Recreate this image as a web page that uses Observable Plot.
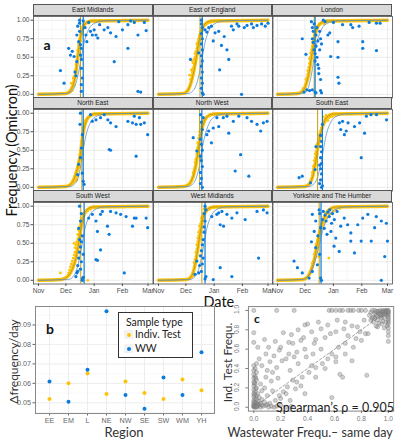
<!DOCTYPE html>
<html><head><meta charset="utf-8">
<script src="https://cdn.jsdelivr.net/npm/d3@7"></script>
<script src="https://cdn.jsdelivr.net/npm/@observablehq/plot@0.6"></script>
<style>
body{margin:0;background:#fff;}
#root{position:relative;width:402px;height:440px;overflow:hidden;background:#fff;font-family:Lato,"Open Sans",sans-serif;}
.abs{position:absolute;white-space:nowrap;color:#111;line-height:1;}
.strip{position:absolute;box-sizing:border-box;background:#d9d9d9;border:0.8px solid #555;font:6.6px "Liberation Sans",Arial,sans-serif;color:#1a1a1a;text-align:center;line-height:10px;}
</style>
</head><body><div id="root"></div>
<script>
// ---------- panel a : facets ----------
const regions = ["East Midlands","East of England","London","North East","North West","South East","South West","West Midlands","Yorkshire and The Humber"];
const monthTicks = ["2021-11-01","2021-12-01","2022-01-01","2022-02-01","2022-03-01"];
const monthMinor = ["2021-11-16","2021-12-16","2022-01-16","2022-02-15"];
const freqTicks = [0,0.25,0.5,0.75,1];
const freqMinor = [0.125,0.375,0.625,0.875];
// fitted curves: day (since 1 Nov) at which each level is reached
const fitLevels = [0,0.01,0.05,0.15,0.3,0.5,0.7,0.85,0.95,0.99,1];
const itFitEM = [0,30,35,38.5,41,43,45,47.5,51,57,120];
const itFitEE = [0,27,32,35.5,38.5,41.5,44,47,51,58,120];
const itFitL  = [0,22,28,31.5,34.5,37,39.5,42,46,53,120];
const itFitNE = [0,30,36,40,43.5,46.5,48.5,51,55,61,120];
const itFitNW = [0,28,34,38,41,43.5,46,49,53,60,120];
const itFitSE = [0,30,35,38.5,41,43.5,46.5,50,54,61,120];
const itFitSW = [0,25,32,37,41,44,46.5,49,53,60,120];
const itFitWM = [0,31,36,39,41.5,44,46.5,49,53,60,120];
const itFitYH = [0,28,33,37,40.5,43.5,47,51,56,64,120];
const wwFitEM = [0,30,37,41,44,47,50,54,60,72,120];
const wwFitEE = [0,32,38,42,45,48,51,55,61,72,120];
const wwFitL  = [0,26,32,35,37.5,40,43,47,53,65,120];
const wwFitNE = [0,34,40,44,46.5,49,52,56,62,74,120];
const wwFitNW = [0,32,38,42,45,47.5,51,55,61,73,120];
const wwFitSE = [0,34,40,44,47,50,53,57,63,75,120];
const wwFitSW = [0,32,38,42,45,48,51,55,61,73,120];
const wwFitWM = [0,34,40,44,47,50,53,57,63,74,120];
const wwFitYH = [0,26,33,38,42,46,50,55,62,75,120];
const wwMidDay = [49,48,41,49,47.5,49,50,51,47.5];
const itMidDay = [46,45.5,40,47.5,45,43.7,46.3,47.5,45.5];
// individual test points [day, frequency]
const itEM = [[31,0.01],[33,0.02],[34,0.04],[35,0.03],[36,0.07],[37,0.1],[37,0.05],[38,0.14],[39,0.2],[39,0.12],[40,0.25],[40,0.32],[41,0.28],[41,0.4],[42,0.45],[42,0.36],[43,0.52],[43,0.6],[44,0.56],[44,0.68],[45,0.64],[45,0.75],[46,0.8],[46,0.72],[47,0.85],[48,0.82],[48,0.9],[49,0.93],[50,0.9],[51,0.95],[53,0.97],[55,0.96],[58,0.99],[62,0.98],[38,0.22],[36,0.15]];
const itEE = [[28,0.01],[30,0.02],[31,0.04],[32,0.05],[33,0.08],[34,0.1],[35,0.14],[35,0.2],[36,0.18],[36,0.25],[37,0.3],[37,0.22],[38,0.35],[38,0.42],[39,0.38],[39,0.47],[40,0.5],[40,0.55],[41,0.58],[41,0.48],[42,0.62],[42,0.68],[43,0.7],[43,0.64],[44,0.75],[45,0.8],[45,0.72],[46,0.84],[47,0.88],[48,0.86],[49,0.91],[50,0.93],[52,0.94],[54,0.96],[57,0.97],[60,0.98],[36,0.33],[38,0.28],[34,0.26],[37,0.45]];
const itL  = [[20,0.01],[24,0.02],[26,0.03],[27,0.05],[28,0.08],[29,0.07],[30,0.12],[31,0.15],[31,0.2],[32,0.22],[33,0.27],[33,0.32],[34,0.36],[34,0.3],[35,0.42],[35,0.48],[36,0.5],[36,0.56],[37,0.6],[37,0.53],[38,0.65],[38,0.7],[39,0.74],[39,0.68],[40,0.8],[41,0.84],[42,0.87],[43,0.9],[44,0.92],[46,0.94],[48,0.96],[51,0.95],[55,0.98],[60,0.99]];
const itNE = [[30,0.01],[33,0.02],[36,0.04],[38,0.06],[40,0.08],[41,0.12],[42,0.1],[42,0.18],[43,0.22],[43,0.15],[44,0.26],[44,0.3],[45,0.35],[45,0.4],[46,0.44],[46,0.5],[47,0.55],[47,0.62],[48,0.68],[48,0.72],[49,0.76],[49,0.8],[50,0.86],[51,0.9],[52,0.88],[53,0.93],[55,0.95],[58,0.97],[62,0.99],[45,0.28],[47,0.38]];
const itNW = [[29,0.01],[31,0.02],[33,0.03],[35,0.05],[36,0.08],[37,0.1],[38,0.14],[38,0.2],[39,0.24],[39,0.18],[40,0.28],[40,0.34],[41,0.38],[41,0.3],[42,0.45],[42,0.5],[43,0.54],[43,0.6],[44,0.58],[44,0.66],[45,0.7],[45,0.75],[46,0.78],[47,0.82],[47,0.86],[48,0.88],[49,0.9],[51,0.93],[53,0.95],[56,0.97],[60,0.98],[64,0.99]];
const itSE = [[30,0.01],[32,0.02],[34,0.04],[35,0.06],[36,0.09],[37,0.12],[38,0.16],[38,0.2],[39,0.24],[39,0.28],[40,0.3],[40,0.36],[41,0.4],[41,0.45],[42,0.48],[42,0.54],[43,0.58],[44,0.6],[45,0.65],[45,0.7],[46,0.72],[47,0.76],[48,0.8],[49,0.84],[50,0.86],[51,0.9],[52,0.88],[54,0.92],[56,0.94],[58,0.95],[60,0.96],[63,0.97],[66,0.98],[50,0.95],[53,0.97],[55,0.9]];
const itSW = [[24,0.1],[27,0.02],[30,0.04],[32,0.06],[33,0.1],[34,0.14],[35,0.18],[36,0.12],[36,0.22],[37,0.26],[38,0.2],[38,0.3],[39,0.34],[40,0.38],[40,0.44],[41,0.48],[42,0.52],[42,0.42],[43,0.56],[43,0.62],[44,0.6],[44,0.68],[45,0.66],[45,0.72],[46,0.76],[47,0.8],[47,0.74],[48,0.84],[49,0.88],[50,0.9],[52,0.92],[54,0.94],[54,0],[57,0.96],[61,0.98],[41,0.38],[39,0.5]];
const itWM = [[31,0.01],[34,0.02],[36,0.05],[37,0.08],[38,0.12],[38,0.06],[39,0.18],[39,0.24],[40,0.28],[40,0.22],[41,0.32],[41,0.38],[42,0.42],[42,0.48],[43,0.52],[43,0.57],[44,0.6],[44,0.65],[45,0.68],[45,0.73],[46,0.76],[47,0.8],[47,0.84],[48,0.86],[49,0.9],[51,0.92],[53,0.94],[56,0.96],[60,0.98],[64,0.99],[50,0.96],[52,0.97]];
const itYH = [[27,0.01],[30,0.02],[32,0.03],[34,0.05],[35,0.08],[36,0.1],[37,0.14],[38,0.18],[38,0.23],[39,0.26],[40,0.3],[40,0.35],[41,0.38],[42,0.42],[42,0.47],[43,0.5],[44,0.54],[45,0.58],[45,0.32],[46,0.62],[47,0.66],[48,0.7],[49,0.72],[50,0.76],[51,0.79],[52,0.82],[54,0.85],[56,0.88],[58,0.9],[61,0.93],[64,0.95],[68,0.97],[56,0.3],[44,0.45]];
// wastewater points [day, frequency]
const wwEM = [[24,0.32],[28,0.15],[33,0.62],[35,0.53],[37,0.58],[39,0.51],[40,0.3],[41,0.25],[42,0.8],[42,0.44],[43,0.92],[44,0.71],[45,1],[45,0.96],[45,0.85],[46,0.67],[46,0.53],[47,0.62],[47,0.47],[47,0.35],[47,0.13],[47,0.04],[48,0.22],[49,0.99],[51,0.9],[52,0.8],[53,0.71],[55,0.97],[57,0.85],[59,0.8],[61,0.87],[63,0.8],[65,0.76],[67,0.94],[72,0.87],[76,0.9],[79,0.83],[83,0.44],[85,0.78],[88,0.98],[92,0.87],[98,0.62],[98,0.94],[101,0.99],[105,0.97],[109,0.8],[109,0.04],[112,0.03],[116,0.97],[118,0.86]];
const wwEE = [[35,0.47],[44,0.56],[47,1],[47,0.95],[48,0.9],[47,0.82],[48,0.75],[47,0.68],[48,0.6],[47,0.52],[48,0.45],[47,0.38],[48,0.3],[47,0.22],[48,0.15],[47,0.08],[48,0.02],[49,0],[51,0.87],[53,0.84],[55,0.9],[58,0.92],[60,0.72],[62,0.83],[66,0.85],[67,0.33],[69,0.66],[72,0.78],[75,0.6],[77,0.47],[80,0.92],[82,0.87],[86,0.95],[88,0.92],[91,0],[94,0.9],[97,0.93],[102,0.95],[104,0.9],[108,0.93],[113,0.95],[117,0.92],[120,0.96]];
const wwL  = [[27,0.75],[31,0.54],[29,0.03],[32,0.06],[35,0.05],[37,0.98],[38,0.9],[38,0.75],[38,0.06],[39,0.7],[39,0.85],[40,0.95],[40,0.6],[41,0.55],[41,0.45],[41,0.03],[42,0.8],[42,0.65],[42,0.02],[43,0.9],[43,0.5],[44,0.72],[44,0.4],[45,0.35],[45,0.28],[46,0.85],[46,0.6],[47,0.2],[47,0.75],[47,0.05],[48,0.68],[48,0.02],[50,1],[52,0.98],[55,0.8],[57,0.83],[58,0.51],[61,0.97],[66,0.5],[66,0.71],[66,0.23],[67,0.15],[71,0.94],[80,0.94],[82,0.9],[89,0.92],[93,0.71],[93,0.62],[100,0.97],[108,0.59],[108,0.96],[112,0.96]];
const wwNE = [[43,0.17],[44,0.31],[45.5,0.85],[46,0.4],[46,1],[47,0.53],[48,0.71],[48,0.19],[49,0.08],[50,0.04],[57,0.98],[59,0.89],[63,0.91],[68,0.94],[72,0.98],[76,0.91],[77.5,0.51],[79,0.5],[79,0.87],[85,0.82],[98,0.89],[103,0.87],[105,0.96],[107,0.85],[107,0.42],[110.6,0.94],[112,0.85],[116,0.87],[119.7,0.71]];
const wwNW = [[38,0.67],[42,0.49],[46,0.05],[47,0.12],[46,0.2],[48,0.28],[47,0.36],[46,0.42],[48,0.5],[47,0.58],[46,0.65],[48,0.78],[47,0.88],[46,0.98],[48,0],[49,0.94],[53,0.71],[55,0.76],[58,0.6],[60,0.8],[64,0.94],[66,0.82],[71,0.94],[75,0.96],[77,0.73],[82,0.89],[84,0.22],[88,0.96],[90,0.44],[97,0.94],[99,0.15],[102,0.89],[108,0.85],[112,0.76],[115,0.87],[119,0.89]];
const wwSE = [[23.5,0.13],[27,0.15],[36,0.06],[41,0.24],[42,0.55],[46,0.05],[47,0.1],[48,0.18],[47,0.25],[48,0.32],[47,0.4],[48,0.48],[47,0.55],[48,0.62],[47,0.7],[49,0.02],[48,0],[46,0.3],[49,0.85],[67.5,0.87],[69,0.78],[71,0.89],[73,0.71],[75,0.76],[77,0.87],[84,0.82],[89.6,0.87],[91.4,0.4],[95,0.73],[97,0.96],[102,0.98],[108,0.98],[119,0.91]];
const wwSW = [[41,0.05],[42,0.1],[43,0.2],[44,0.3],[45,0.38],[46,0.45],[47,0.52],[48,0.6],[44,0.7],[46,0.8],[47,0.9],[45,1],[48,0.02],[49,0.04],[43,0.12],[47,0.25],[48,0],[46,0.15],[49,0.35],[45,0.55],[55,0.84],[59,0.89],[63,0.8],[64.6,0.66],[63,0.28],[64.6,0.27],[68,0.89],[68,0.41],[70,0.93],[75.6,0.73],[77.4,0.62],[79,0.93],[85,0.91],[90,0.89],[94,0.1],[96,0.86],[103,0.73],[105,0.84],[107,0.84],[118,0.84],[119.7,0.71]];
const wwWM = [[40,0.08],[42,0.26],[44,0.1],[45,0.2],[46,0.33],[47,0.4],[48,0.48],[49,0.55],[50,0.65],[50,0.72],[51,0.8],[50,0.9],[51,0.02],[52,0.05],[47,0.12],[48,0.22],[52,0.95],[49,0.3],[51,1],[58.4,0.86],[60,0.01],[64,0.89],[66,0.91],[67.6,0.75],[67.6,0.17],[69.5,0.93],[71.3,0.73],[75,0.89],[80.4,0.84],[80.4,0.05],[86,0.91],[95,0.82],[108,0.93],[109.7,0.3],[115,0.95],[119,0.91]];
const wwYH = [[18,0.26],[21.7,0.17],[27,0.1],[34.5,0.03],[37,0.52],[38,0.89],[38,0.12],[40,0.66],[41.7,0.44],[41.7,0.8],[43.5,0.21],[45.4,0.95],[47,0.71],[47,0.03],[48,0],[44,0.6],[46,0.35],[46,0.9],[49,0.82],[50,0.93],[51,0.7],[52,0.88],[53,0.8],[54,0.62],[55,0.92],[56.5,0.86],[57,0.95],[58.3,0.66],[59,0.77],[60,0.9],[61.7,0.46],[62,0.82],[63.6,0.57],[65,0.93],[67.3,0.39],[69,0.73],[72.8,0.84],[76.5,0.75],[80,0.64],[80,0.53],[84,0.37],[87.6,0.75],[91.3,0.53],[93,0.84],[98.6,0.89],[102.3,0.53],[106,0.71],[107.8,0.86],[113.3,0.8],[113.3,0],[117,0.32],[118.8,0.77],[120,0.53]];

// ---------- panel b ----------
const regionCodes = ["EE","EM","L","NE","NW","SE","SW","WM","YH"];
const rateIndiv = [0.052,0.060,0.065,0.0545,0.061,0.055,0.052,0.062,0.0565];
const rateWW    = [0.061,0.0505,0.067,0.097,0.054,0.047,0.063,0.054,0.076];
const rateTicks = [0.05,0.06,0.07,0.08,0.09];
const rateMinor = [0.045,0.055,0.065,0.075,0.085,0.095];
const sampleTypes = ["Indiv. Test","WW"];

// ---------- panel c ----------
const corrTicks = [0,0.2,0.4,0.6,0.8,1];
const diagLine = [[0,0],[1,1]];
const scatterWWvsIT = [
[0,0],[0.01,0],[0.02,0],[0,0.01],[0.01,0.02],[0.03,0.01],[0.05,0],[0.07,0.01],[0.09,0.02],[0.11,0],[0.13,0.01],[0.15,0],[0.04,0.03],[0.02,0.04],[0,0.05],[0,0.07],[0.01,0.09],[0,0.11],[0.02,0.12],[0,0.14],[0.01,0.16],[0,0.18],[0.02,0.2],[0,0.22],[0.01,0.24],[0,0.26],[0.02,0.28],[0,0.3],[0.01,0.32],[0,0.34],[0.02,0.36],[0,0.38],[0.01,0.4],[0,0.43],[0.02,0.45],[0.03,0.06],[0.05,0.04],[0.06,0.08],[0.04,0.1],[0.03,0.14],[0.06,0.02],[0.08,0.05],[0.1,0.03],[0.12,0.04],[0.17,0.01],[0.2,0.02],[0.24,0],[0.28,0.01],[0,0.02],[0.01,0.05],[0.02,0.08],[0.005,0.13],[0.015,0.19],[0.005,0.25],[0.015,0.3],[0,0.03],[0.01,0.01],[0.03,0.03],[0.02,0.01],
[0,0.77],[0,0.67],[0.22,0.77],[0.4,0.86],[0.46,0.7],[0.38,0.85],[0.35,0.69],[0.26,0.67],[0.19,0.59],[0.26,0.55],[0.32,0.57],[0.38,0.6],[0.45,0.66],[0.53,0.72],[0.57,0.76],[0.61,0.78],[0.67,0.81],[0.68,0.88],[0.73,0.84],[0.77,0.83],[0.79,0.78],[0.82,0.9],[0.83,0.76],[0.76,0.71],[0.68,0.66],[0.63,0.62],[0.58,0.55],[0.55,0.5],[0.61,0.52],[0.51,0.45],[0.46,0.41],[0.41,0.36],[0.36,0.31],[0.32,0.26],[0.29,0.28],[0.25,0.21],[0.22,0.16],[0.19,0.12],[0.16,0.07],[0.06,0.17],[0.05,0.24],[0.09,0.31],[0.14,0.36],[0.17,0.41],[0.21,0.48],[0.12,0.47],[0.06,0.43],[0.04,0.5],[0.09,0.55],[0.15,0.53],[0.2,0.62],[0.29,0.66],[0.37,0.72],[0.43,0.78],[0.5,0.81],[0.43,0.43],[0.66,0.31],[0.84,0.33],[0.73,0.48],[0.24,0.14],[0.31,0.19],[0.38,0.14],[0.58,0.1],[0.64,0.34],[0.1,0.38],[0.13,0.27],[0.08,0.2],[0.18,0.3],[0.27,0.38],[0.33,0.45],[0.24,0.5],[0.3,0.52],[0.11,0.62],[0.16,0.68],[0.28,0.75],[0.33,0.8],[0.48,0.88],[0.55,0.85],[0.62,0.9],[0.7,0.74],[0.74,0.62],[0.8,0.69],[0.85,0.76],[0.92,0.83],[0.95,0.86],[0.68,0.55],[0.61,0.47],[0.53,0.4],[0.46,0.31],[0.2,0.09],[0.27,0.07],[0.35,0.22],[0.14,0.17],[0.1,0.12],[0.39,0.52],[0.5,0.6],[0.44,0.55],[0.08,0.7],[0.03,0.62],
[0,1],[0.17,1],[0.3,1],[0.56,1],[0.58,1],[0.61,1],[0.64,1],[0.66,1],[0.7,1],[0.72,1],[0.74,1],[0.78,1],[0.8,1],[0.83,1],
[0.86,0.95],[0.87,0.98],[0.88,1],[0.89,0.93],[0.9,0.97],[0.9,1],[0.91,0.95],[0.92,0.99],[0.92,0.9],[0.93,0.97],[0.94,1],[0.94,0.94],[0.95,0.98],[0.95,0.92],[0.96,1],[0.96,0.96],[0.97,0.99],[0.97,0.93],[0.98,1],[0.98,0.97],[0.99,0.95],[0.99,1],[1,1],[1,0.98],[1,0.96],[1,0.94],[1,0.92],[1,0.9],[1,0.88],[1,0.86],[1,0.82],[1,0.78],[1,0.74],[1,0.68],[0.99,0.84],[0.98,0.88],[0.97,0.82],[0.96,0.89],[0.93,0.87],[0.91,0.84],[0.89,0.88],[0.88,0.92],[0.87,0.9],[0.9,0.92],[0.95,0.95],[0.97,0.96],[0.99,0.98],[0.96,0.99],[0.93,0.99],[0.91,0.99],[0.98,0.99],[1,0.99],[0.94,0.96],[0.92,0.94]
];

// ---------- build ----------
const root = document.getElementById("root");
const YELLOW = "#FFC20A", BLUE = "#0C7BDC";
const day0 = Date.UTC(2021,10,1);
const toDate = d => new Date(day0 + d*864e5);
const xDomain = [toDate(-5.5), toDate(125.5)];
const monthDates = monthTicks.map(s => new Date(s+"T00:00Z"));
const minorDates = monthMinor.map(s => new Date(s+"T00:00Z"));
const itFits = [itFitEM,itFitEE,itFitL,itFitNE,itFitNW,itFitSE,itFitSW,itFitWM,itFitYH];
const wwFits = [wwFitEM,wwFitEE,wwFitL,wwFitNE,wwFitNW,wwFitSE,wwFitSW,wwFitWM,wwFitYH];
const itAll = [itEM,itEE,itL,itNE,itNW,itSE,itSW,itWM,itYH];
const wwAll = [wwEM,wwEE,wwL,wwNE,wwNW,wwSE,wwSW,wwWM,wwYH];
const pts = arr => arr.map(([d,v]) => ({t: toDate(d), v}));
const fit = days => days.map((d,k) => ({t: toDate(d), v: fitLevels[k]}));

function place(el, left, top){ el.style.position="absolute"; el.style.left=left+"px"; el.style.top=top+"px"; root.appendChild(el); }
// centred label (optionally rotated) placed by measuring its own box
function label(text, cx, cy, css, rot){
  const d=document.createElement("div"); d.className="abs"; d.textContent=text; d.style.cssText += css;
  root.appendChild(d);
  const w=d.offsetWidth, h=d.offsetHeight;
  d.style.left=(cx-w/2)+"px"; d.style.top=(cy-h/2)+"px";
  if (rot) d.style.transform="rotate("+rot+"deg)";
  return d;
}

const colLeft=[33,152.5,272], colW=[119.5,119.5,120], stripTop=[4,97,190], stripH=11.5, panelH=81.5;

regions.forEach((name,i) => {
  const c=i%3, r=Math.floor(i/3);
  const isLeft=c===0, isBottom=r===2;
  const mL=isLeft?33:0, mB=isBottom?16:0;
  const svg = Plot.plot({
    width: colW[c]+mL, height: panelH+mB,
    marginLeft: mL, marginRight: 0, marginTop: 0, marginBottom: mB,
    style: {fontSize:"6.6px", fontFamily:"'Liberation Sans', Arial, sans-serif", color:"#4d4d4d", background:"transparent", overflow:"visible"},
    x: {type:"utc", domain:xDomain, ticks:monthDates, tickFormat:d3.utcFormat("%b"), axis:isBottom?"bottom":null, tickSize:2.5, tickPadding:1.5, label:null},
    y: {domain:[-0.05,1.05], ticks:freqTicks, tickFormat:d3.format(".2f"), axis:isLeft?"left":null, tickSize:2.5, tickPadding:1.5, label:null},
    marks: [
      Plot.ruleX(minorDates, {stroke:"#f3f3f3", strokeWidth:0.6}),
      Plot.ruleY(freqMinor, {stroke:"#f3f3f3", strokeWidth:0.6}),
      Plot.ruleX(monthDates, {stroke:"#e6e6e6", strokeWidth:0.8}),
      Plot.ruleY(freqTicks, {stroke:"#e6e6e6", strokeWidth:0.8}),
      Plot.line(fit(itFits[i]), {x:"t", y:"v", stroke:YELLOW, strokeWidth:3.4, curve:"monotone-x"}),
      Plot.dot(pts(itAll[i]), {x:"t", y:"v", r:1.4, fill:YELLOW}),
      Plot.line(fit(itFits[i]), {x:"t", y:"v", stroke:"#B59A1E", strokeWidth:0.9, curve:"monotone-x"}),
      Plot.line(fit(wwFits[i]), {x:"t", y:"v", stroke:"#5F93C2", strokeWidth:0.8, curve:"monotone-x"}),
      Plot.ruleX([toDate(itMidDay[i])], {stroke:"#C9A410", strokeWidth:1}),
      Plot.ruleX([toDate(wwMidDay[i])], {stroke:BLUE, strokeWidth:1.2}),
      Plot.dot(pts(wwAll[i]), {x:"t", y:"v", r:1.6, fill:BLUE}),
      Plot.frame({stroke:"#4d4d4d", strokeWidth:0.8})
    ]
  });
  place(svg, colLeft[c]-mL, stripTop[r]+stripH);
  const s=document.createElement("div"); s.className="strip"; s.textContent=name;
  s.style.left=colLeft[c]+"px"; s.style.top=stripTop[r]+"px"; s.style.width=colW[c]+"px"; s.style.height=stripH+"px";
  root.appendChild(s);
});

label("a", 47, 44, "font:bold 14px Lato,sans-serif;");
label("Frequency (Omicron)", 11, 150, "font:14.5px Lato,sans-serif;", -90);
label("Date", 219, 301, "font:14.5px Lato,sans-serif;");

// panel b
const bData = regionCodes.flatMap((code,k) => [{code, type:sampleTypes[0], v:rateIndiv[k]}, {code, type:sampleTypes[1], v:rateWW[k]}]);
const pb = Plot.plot({
  width:218, height:140, marginLeft:35, marginRight:4, marginTop:6, marginBottom:27,
  style:{fontSize:"7.2px", fontFamily:"'Liberation Sans', Arial, sans-serif", color:"#666", background:"transparent", overflow:"visible"},
  x:{type:"point", domain:regionCodes, padding:0.6, tickSize:2.5, tickPadding:2, label:null},
  y:{domain:[0.0445,0.0995], ticks:rateTicks, tickFormat:d3.format(".2f"), tickSize:2.5, tickPadding:2, label:null},
  color:{domain:sampleTypes, range:[YELLOW,BLUE]},
  marks:[
    Plot.ruleY(rateMinor, {stroke:"#f3f3f3", strokeWidth:0.6}),
    Plot.ruleY(rateTicks, {stroke:"#e8e8e8", strokeWidth:0.8}),
    Plot.ruleX(regionCodes, {stroke:"#e8e8e8", strokeWidth:0.8}),
    Plot.dot(bData, {x:"code", y:"v", fill:"type", r:2}),
    Plot.frame({stroke:"#8a8a8a", strokeWidth:1})
  ]
});
place(pb, 0, 300);
label("b", 50, 328, "font:bold 14px Lato,sans-serif;");
label("Δfrequency/day", 13, 361, "font:12px Lato,sans-serif;color:#333;", -90);
label("Region", 124, 432, "font:13px Lato,sans-serif;color:#333;");
const lg = document.createElement("div");
lg.style.cssText = "position:absolute;left:118px;top:312px;width:75px;height:46px;box-sizing:border-box;border:1px solid #333;background:#fff;font:10.5px Lato,sans-serif;color:#222;line-height:1.1;";
lg.innerHTML = '<div style="position:absolute;left:7px;top:4px;">Sample type</div>' +
  sampleTypes.map((t,k) => '<div style="position:absolute;left:5px;top:'+(17+k*14)+'px;width:9px;height:9px;background:#f2f2f2;"><div style="position:absolute;left:2.5px;top:2.5px;width:4px;height:4px;border-radius:50%;background:'+[YELLOW,BLUE][k]+'"></div></div><div style="position:absolute;left:16px;top:'+(16+k*14)+'px;">'+t+'</div>').join("");
root.appendChild(lg);

// panel c
const fmt1 = d3.format(".1f");
const pc = Plot.plot({
  width:177, height:140, marginLeft:22.9, marginRight:8.8, marginTop:6.1, marginBottom:29.4,
  style:{fontSize:"6.6px", fontFamily:"'Liberation Sans', Arial, sans-serif", color:"#777", background:"transparent", overflow:"visible"},
  x:{domain:[-0.04,1.04], ticks:corrTicks, tickFormat:fmt1, tickSize:2.5, tickPadding:2.5, label:null},
  y:{domain:[-0.04,1.04], ticks:corrTicks, tickFormat:() => "", tickSize:2.5, tickPadding:1, label:null},
  marks:[
    Plot.line(diagLine, {x:d=>d[0], y:d=>d[1], stroke:"#9a9a9a", strokeWidth:0.9, strokeDasharray:"2.5,2"}),
    Plot.dot(scatterWWvsIT, {x:d=>d[0], y:d=>d[1], r:2.1, fill:"#8f8f8f", fillOpacity:0.42, stroke:"#6a6a6a", strokeOpacity:0.55, strokeWidth:0.6}),
    Plot.frame({stroke:"#777", strokeWidth:0.9})
  ]
});
place(pc, 225, 300);
const ySc = pc.scale("y");
corrTicks.forEach(v => label(fmt1(v), 236, 300 + ySc.apply(v), "font:6.6px 'Liberation Sans',Arial,sans-serif;color:#777;", -90));
label("Ind. Test Frequ.", 228, 362, "font:12px Lato,sans-serif;color:#333;", -90);
label("c", 257, 318, "font:bold 12px Lato,sans-serif;");
label("Wastewater Frequ.– same day", 310, 432, "font:12.5px Lato,sans-serif;color:#333;");
label("Spearman’s ρ = 0.905", 335, 407, "font:12.5px Lato,sans-serif;color:#222;");
</script></body></html>
